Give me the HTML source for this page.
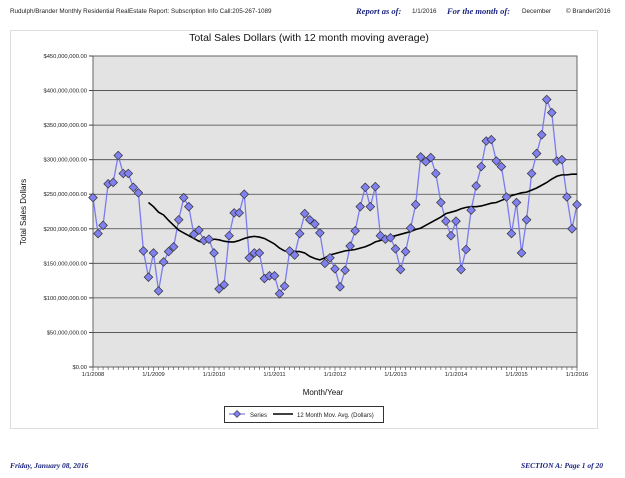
<!DOCTYPE html>
<html><head><meta charset="utf-8"><style>
body{margin:0;background:#fff;width:625px;height:473px;overflow:hidden;font-family:"Liberation Sans",sans-serif;}
svg text{font-family:"Liberation Sans",sans-serif;}
</style></head><body>
<svg id="c" width="625" height="473" viewBox="0 0 625 473">
<text x="10" y="13" font-size="6.3" fill="#222">Rudulph/Brander Monthly Residential RealEstate Report: Subscription Info Call:205-267-1089</text>
<text x="356" y="14" font-size="8.5" font-family="Liberation Serif" font-style="italic" font-weight="bold" fill="#1a237e" style="font-family:'Liberation Serif',serif">Report as of:</text>
<text x="412" y="13" font-size="6.3" fill="#222">1/1/2016</text>
<text x="447" y="14" font-size="8.5" font-style="italic" font-weight="bold" fill="#1a237e" style="font-family:'Liberation Serif',serif">For the month of:</text>
<text x="522" y="13" font-size="6.3" fill="#222">December</text>
<text x="566" y="13" font-size="6.3" fill="#222">© Brander/2016</text>
<rect x="10.5" y="30.5" width="587" height="398" fill="#fff" stroke="#ddd"/>
<text x="309" y="41" font-size="10.5" text-anchor="middle" fill="#111">Total Sales Dollars (with 12 month moving average)</text>
<rect x="93" y="56" width="484" height="311" fill="#e3e3e3" stroke="#666"/>
<g id="grid"></g><g id="ylab"></g><g id="xlab"></g>
<g id="series"></g>
<text transform="translate(26,212) rotate(-90)" font-size="8" text-anchor="middle" fill="#111">Total Sales Dollars</text>
<text x="323" y="395" font-size="8" text-anchor="middle" fill="#111">Month/Year</text>
<g>
<rect x="224.5" y="406.5" width="159" height="16" fill="#fff" stroke="#333"/>
<line x1="229" y1="414" x2="245" y2="414" stroke="#7b7bf0" stroke-width="1.2"/>
<path d="M237 410.5 L240.5 414 L237 417.5 L233.5 414Z" fill="#8080f0" stroke="#333" stroke-width="0.6"/>
<text x="250" y="417" font-size="6" fill="#222">Series</text>
<line x1="273" y1="414" x2="293" y2="414" stroke="#000" stroke-width="1.5"/>
<text x="297" y="417" font-size="6" fill="#222">12 Month Mov. Avg. (Dollars)</text>
</g>
<text x="10" y="468" font-size="7.5" font-style="italic" font-weight="bold" fill="#1a237e" style="font-family:'Liberation Serif',serif">Friday, January 08, 2016</text>
<text x="603" y="468" font-size="7.5" font-style="italic" font-weight="bold" fill="#1a237e" text-anchor="end" style="font-family:'Liberation Serif',serif">SECTION A:  Page 1 of 20</text>
</svg>
<script>
const salesValues=[245,193,205,265,267,306,280,280,260,252,168,130,165,110,152,167,174,213,245,232,192,198,183,185,165,113,119,190,223,223,250,158,165,165,128,132,132,106,117,168,162,193,222,213,207,194,150,158,142,116,140,175,197,232,260,232,261,190,185,187,171,141,167,201,235,304,297,303,280,238,211,190,211,141,170,227,262,290,327,329,298,290,246,193,238,165,213,280,309,336,387,368,298,300,246,200,235];
const maStartMonth=11;
const maValues=[238,232,224,220,212,205,198,194,190,186,182,180,182,185,184,182,181,181,183,186,188,189,188,186,182,178,172,168,167,167,167,165,160,157,155,158,162,164,166,168,169,170,172,174,177,181,183,186,188,190,192,194,196,199,201,205,209,213,217,222,224,226,229,231,232,232,233,235,237,238,241,244,248,250,252,253,256,259,263,267,272,276,278,278,279,279];
const yTicks=[0,50,100,150,200,250,300,350,400,450];
const yTickLabels=["$0.00","$50,000,000.00","$100,000,000.00","$150,000,000.00","$200,000,000.00","$250,000,000.00","$300,000,000.00","$350,000,000.00","$400,000,000.00","$450,000,000.00"];
const xTickLabels=["1/1/2008","1/1/2009","1/1/2010","1/1/2011","1/1/2012","1/1/2013","1/1/2014","1/1/2015","1/1/2016"];
const NS="http://www.w3.org/2000/svg";
const X0=93,X1=577,Y0=367,Y1=56,NM=96,YMAX=450;
const xs=m=>X0+(X1-X0)*m/NM;
const ys=v=>Y0-(Y0-Y1)*v/YMAX;
function mk(t,a,p){const e=document.createElementNS(NS,t);for(const k in a)e.setAttribute(k,a[k]);p.appendChild(e);return e;}
const grid=document.getElementById('grid'),yl=document.getElementById('ylab'),xl=document.getElementById('xlab'),ser=document.getElementById('series');
yTicks.forEach((v,i)=>{
 if(v>0&&v<YMAX){const g=mk('line',{x1:X0,x2:X1,y1:ys(v),y2:ys(v),stroke:'#444','stroke-width':0.8},grid);
 
 }
 mk('line',{x1:X0-4,x2:X0,y1:ys(v),y2:ys(v),stroke:'#444'},grid);
 const t=mk('text',{x:X0-6,y:ys(v)+2,'font-size':5.8,'text-anchor':'end',fill:'#222'},yl);
 t.textContent=yTickLabels[i];
 
 
});
for(let m=0;m<=NM;m++){mk('line',{x1:xs(m),x2:xs(m),y1:Y0,y2:Y0+(m%12===0?4:3),stroke:'#444','stroke-width':0.6},grid);}
xTickLabels.forEach((s,i)=>{
 const t=mk('text',{x:xs(i*12),y:Y0+9,'font-size':5.8,'text-anchor':'middle',fill:'#222'},xl);
 t.textContent=s;
 
 
});
const sp=mk('polyline',{points:salesValues.map((v,i)=>xs(i)+','+ys(v)).join(' '),fill:'none',stroke:'#7b7bf0','stroke-width':1.3},ser);


const mp=mk('polyline',{points:maValues.map((v,i)=>xs(i+maStartMonth)+','+ys(v)).join(' '),fill:'none',stroke:'#000','stroke-width':1.6},ser);


salesValues.forEach((v,i)=>{
 const x=xs(i),y=ys(v),r=4.3;
 const d=mk('path',{d:`M${x} ${y-r}L${x+r} ${y}L${x} ${y+r}L${x-r} ${y}Z`,fill:'#8080f0',stroke:'#333','stroke-width':0.7},ser);
 
 
});
</script>
</body></html>
